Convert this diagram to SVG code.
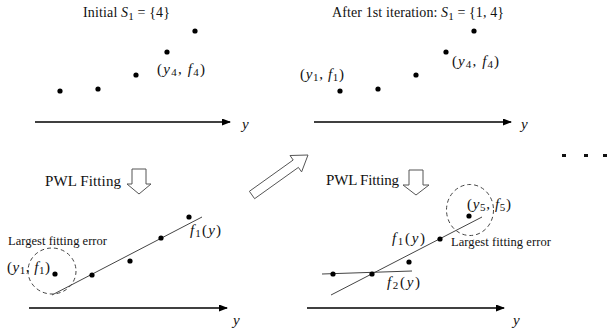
<svg xmlns="http://www.w3.org/2000/svg" width="608" height="328" viewBox="0 0 608 328">
<defs>
<marker id="ah" markerWidth="9" markerHeight="7" refX="8" refY="3.5" orient="auto" markerUnits="userSpaceOnUse">
<path d="M0,0 L9,3.5 L0,7 Z" fill="#000"/>
</marker>
<style>
text{font-family:"Liberation Serif","Times New Roman",serif;fill:#111;}
.t{font-size:14px;}
.p{font-size:15px;}
.e{font-size:12.5px;}
.m{font-size:15px;}
.i{font-style:italic;}
.s{font-size:11px;}
.ax{stroke:#000;stroke-width:1.3;fill:none;marker-end:url(#ah);}
.fit{stroke:#444;stroke-width:1;fill:none;}
.dot{fill:#000;}
.dash{fill:none;stroke:#444;stroke-width:1;stroke-dasharray:4 3;}
.big{fill:#fff;stroke:#555;stroke-width:1;}
</style>
</defs>
<rect width="608" height="328" fill="#fff"/>

<g id="panel-initial">
<text class="t" x="83" y="17" textLength="87" lengthAdjust="spacing">Initial <tspan class="i">S</tspan><tspan class="s" dy="3">1</tspan><tspan dy="-3"> = {4}</tspan></text>
<circle class="dot" cx="195" cy="31" r="2.6"/>
<circle class="dot" cx="167" cy="52" r="2.6"/>
<circle class="dot" cx="136" cy="75" r="2.6"/>
<circle class="dot" cx="98" cy="89" r="2.6"/>
<circle class="dot" cx="60" cy="91" r="2.6"/>
<text class="m" x="157" y="74" textLength="48" lengthAdjust="spacing">(<tspan class="i">y</tspan><tspan class="s" dy="2">4</tspan><tspan dy="-2">, </tspan><tspan class="i">f</tspan><tspan class="s" dy="2">4</tspan><tspan dy="-2">)</tspan></text>
<path class="ax" d="M35,122 H230"/>
<text class="m i" x="242" y="129">y</text>
</g>

<g id="panel-iter1">
<text class="t" x="332" y="17" textLength="172" lengthAdjust="spacing">After 1st iteration: <tspan class="i">S</tspan><tspan class="s" dy="3">1</tspan><tspan dy="-3"> = {1, 4}</tspan></text>
<circle class="dot" cx="474" cy="31" r="2.6"/>
<circle class="dot" cx="446" cy="52" r="2.6"/>
<circle class="dot" cx="416" cy="75" r="2.6"/>
<circle class="dot" cx="378" cy="89" r="2.6"/>
<circle class="dot" cx="340" cy="91" r="2.6"/>
<text class="m" x="452" y="66" textLength="47" lengthAdjust="spacing">(<tspan class="i">y</tspan><tspan class="s" dy="2">4</tspan><tspan dy="-2">, </tspan><tspan class="i">f</tspan><tspan class="s" dy="2">4</tspan><tspan dy="-2">)</tspan></text>
<text class="m" x="300" y="79" textLength="44" lengthAdjust="spacing">(<tspan class="i">y</tspan><tspan class="s" dy="2">1</tspan><tspan dy="-2">, </tspan><tspan class="i">f</tspan><tspan class="s" dy="2">1</tspan><tspan dy="-2">)</tspan></text>
<path class="ax" d="M314,122 H511"/>
<text class="m i" x="521" y="129">y</text>
</g>

<g id="fit-left">
<text class="p" x="45" y="186" textLength="76" lengthAdjust="spacing">PWL Fitting</text>
<path class="big" d="M132,169 H146 V184 H151 L139,194 L127,184 H132 Z"/>
<text class="e" x="8" y="245" textLength="99" lengthAdjust="spacing">Largest fitting error</text>
<ellipse class="dash" cx="52" cy="271" rx="24" ry="23"/>
<line class="fit" x1="52" y1="295" x2="202" y2="217"/>
<circle class="dot" cx="189" cy="217" r="2.6"/>
<circle class="dot" cx="161" cy="238" r="2.6"/>
<circle class="dot" cx="130" cy="261" r="2.6"/>
<circle class="dot" cx="92" cy="275" r="2.6"/>
<circle class="dot" cx="55" cy="274" r="2.6"/>
<text class="m" x="7" y="272" textLength="43" lengthAdjust="spacing">(<tspan class="i">y</tspan><tspan class="s" dy="2">1</tspan><tspan dy="-2">, </tspan><tspan class="i">f</tspan><tspan class="s" dy="2">1</tspan><tspan dy="-2">)</tspan></text>
<text class="m" x="190" y="235" textLength="31" lengthAdjust="spacing"><tspan class="i">f</tspan><tspan class="s" dy="2">1</tspan><tspan dy="-2">(</tspan><tspan class="i">y</tspan>)</text>
<path class="ax" d="M29,308 H227"/>
<text class="m i" x="233" y="325">y</text>
</g>

<g id="fit-right">
<text class="p" x="326" y="185" textLength="73" lengthAdjust="spacing">PWL Fitting</text>
<path class="big" d="M409,170 H423 V185 H429 L416,195 L403,185 H409 Z"/>
<ellipse class="dash" cx="470" cy="210" rx="23.5" ry="25.5"/>
<line class="fit" x1="331" y1="295" x2="482" y2="217"/>
<line class="fit" x1="322" y1="274" x2="412" y2="271"/>
<circle class="dot" cx="469" cy="216" r="2.6"/>
<circle class="dot" cx="440" cy="239" r="2.6"/>
<circle class="dot" cx="409" cy="262" r="2.6"/>
<circle class="dot" cx="372" cy="274" r="2.6"/>
<circle class="dot" cx="333" cy="274" r="2.6"/>
<text class="m" x="467" y="209" textLength="44" lengthAdjust="spacing">(<tspan class="i">y</tspan><tspan class="s" dy="2">5</tspan><tspan dy="-2">, </tspan><tspan class="i">f</tspan><tspan class="s" dy="2">5</tspan><tspan dy="-2">)</tspan></text>
<text class="m" x="392" y="243" textLength="33" lengthAdjust="spacing"><tspan class="i">f</tspan><tspan class="s" dy="2">1</tspan><tspan dy="-2">(</tspan><tspan class="i">y</tspan>)</text>
<text class="m" x="387" y="287" textLength="33" lengthAdjust="spacing"><tspan class="i">f</tspan><tspan class="s" dy="2">2</tspan><tspan dy="-2">(</tspan><tspan class="i">y</tspan>)</text>
<text class="e" x="451" y="246" textLength="100" lengthAdjust="spacing">Largest fitting error</text>
<path class="ax" d="M307,308 H504"/>
<text class="m i" x="513" y="325">y</text>
</g>

<g id="connectors">
<path class="big" d="M249.4,191.3 L293.2,160 L290,155.5 L308,155 L301.6,171.9 L298.4,167.4 L254.6,198.7 Z"/>
<rect x="562" y="154" width="4" height="3" fill="#111"/>
<rect x="584" y="154" width="4" height="3" fill="#111"/>
<rect x="603" y="154" width="4" height="3" fill="#111"/>
</g>
</svg>
